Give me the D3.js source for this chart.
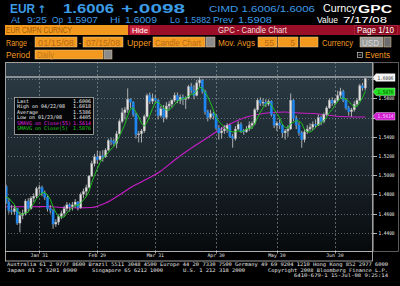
<!DOCTYPE html>
<html><head><meta charset="utf-8">
<script src="https://cdn.jsdelivr.net/npm/d3@7"></script>
<style>html,body{margin:0;padding:0;background:#000;}svg{display:block}</style>
</head><body>
<svg id="c" width="400" height="286"></svg>
<script>
// ---------- DATA ----------
const dates = ["01/15","01/16","01/17","01/18","01/21","01/22","01/23","01/24","01/25","01/28","01/29","01/30","01/31",
"02/01","02/04","02/05","02/06","02/07","02/08","02/11","02/12","02/13","02/14","02/15","02/18","02/19","02/20","02/21","02/22","02/25","02/26","02/27","02/28","02/29",
"03/03","03/04","03/05","03/06","03/07","03/10","03/11","03/12","03/13","03/14","03/17","03/18","03/19","03/20","03/21","03/24","03/25","03/26","03/27","03/28","03/31",
"04/01","04/02","04/03","04/04","04/07","04/08","04/09","04/10","04/11","04/14","04/15","04/16","04/17","04/18","04/21","04/22","04/23","04/24","04/25","04/28","04/29","04/30",
"05/01","05/02","05/05","05/06","05/07","05/08","05/09","05/12","05/13","05/14","05/15","05/16","05/19","05/20","05/21","05/22","05/23","05/26","05/27","05/28","05/29","05/30",
"06/02","06/03","06/04","06/05","06/06","06/09","06/10","06/11","06/12","06/13","06/16","06/17","06/18","06/19","06/20","06/23","06/24","06/25","06/26","06/27","06/30",
"07/01","07/02","07/03","07/04","07/07","07/08","07/09","07/10","07/11","07/14","07/15"];
const opens = [1.4880,1.4720,1.4630,1.4620,1.4650,1.4500,1.4580,1.4600,1.4730,1.4650,1.4760,1.4780,1.4860,
1.4870,1.4810,1.4770,1.4650,1.4630,1.4490,1.4510,1.4570,1.4600,1.4650,1.4690,1.4670,1.4690,1.4720,1.4660,1.4800,1.4830,1.4870,1.4990,1.5120,1.5190,
1.5160,1.5200,1.5190,1.5260,1.5360,1.5350,1.5330,1.5430,1.5560,1.5650,1.5680,1.5790,1.5760,1.5630,1.5420,1.5430,1.5460,1.5610,1.5830,1.5770,1.5800,
1.5780,1.5620,1.5690,1.5600,1.5720,1.5740,1.5780,1.5830,1.5780,1.5810,1.5790,1.5800,1.5920,1.5880,1.5830,1.5960,1.5990,1.5870,1.5660,1.5600,1.5640,1.5620,
1.5490,1.5440,1.5460,1.5480,1.5520,1.5400,1.5380,1.5480,1.5530,1.5460,1.5450,1.5480,1.5520,1.5540,1.5680,1.5780,1.5750,1.5760,1.5740,1.5770,1.5630,1.5520,
1.5540,1.5520,1.5440,1.5460,1.5480,1.5780,1.5590,1.5520,1.5440,1.5370,1.5450,1.5480,1.5500,1.5530,1.5520,1.5600,1.5560,1.5630,1.5700,1.5780,1.5750,
1.5780,1.5830,1.5870,1.5780,1.5700,1.5660,1.5680,1.5740,1.5780,1.5930,1.5907];
const highs = [1.4900,1.4760,1.4690,1.4690,1.4660,1.4620,1.4640,1.4750,1.4760,1.4780,1.4810,1.4880,1.4900,
1.4890,1.4840,1.4790,1.4690,1.4650,1.4540,1.4590,1.4630,1.4680,1.4720,1.4710,1.4720,1.4750,1.4730,1.4820,1.4860,1.4900,1.5000,1.5150,1.5220,1.5250,
1.5250,1.5260,1.5280,1.5380,1.5390,1.5380,1.5460,1.5580,1.5700,1.5710,1.5903,1.5800,1.5770,1.5650,1.5460,1.5480,1.5630,1.5850,1.5860,1.5850,1.5830,
1.5790,1.5720,1.5730,1.5760,1.5770,1.5790,1.5860,1.5860,1.5840,1.5840,1.5820,1.5940,1.5960,1.5940,1.5990,1.6018,1.6000,1.5890,1.5680,1.5680,1.5660,1.5640,
1.5520,1.5500,1.5520,1.5540,1.5530,1.5430,1.5510,1.5560,1.5550,1.5480,1.5510,1.5560,1.5560,1.5700,1.5800,1.5810,1.5800,1.5790,1.5790,1.5780,1.5640,1.5560,
1.5580,1.5530,1.5480,1.5520,1.5850,1.5790,1.5620,1.5550,1.5460,1.5480,1.5520,1.5540,1.5560,1.5580,1.5630,1.5620,1.5650,1.5720,1.5800,1.5810,1.5800,
1.5880,1.5910,1.5890,1.5800,1.5720,1.5700,1.5770,1.5800,1.5950,1.5960,1.6009];
const lows = [1.4700,1.4600,1.4590,1.4590,1.4480,1.4405,1.4540,1.4580,1.4620,1.4640,1.4720,1.4760,1.4800,
1.4780,1.4740,1.4620,1.4600,1.4440,1.4460,1.4480,1.4540,1.4570,1.4620,1.4620,1.4630,1.4660,1.4630,1.4650,1.4760,1.4780,1.4860,1.4980,1.5090,1.5120,
1.5150,1.5140,1.5180,1.5250,1.5310,1.5300,1.5280,1.5420,1.5540,1.5580,1.5650,1.5700,1.5610,1.5380,1.5340,1.5340,1.5440,1.5600,1.5740,1.5740,1.5750,
1.5580,1.5600,1.5550,1.5580,1.5680,1.5700,1.5760,1.5750,1.5740,1.5730,1.5690,1.5790,1.5850,1.5790,1.5820,1.5920,1.5850,1.5630,1.5560,1.5580,1.5580,1.5470,
1.5370,1.5380,1.5430,1.5440,1.5390,1.5285,1.5360,1.5470,1.5440,1.5420,1.5440,1.5460,1.5480,1.5520,1.5660,1.5720,1.5720,1.5710,1.5720,1.5610,1.5490,1.5460,
1.5480,1.5390,1.5370,1.5400,1.5470,1.5560,1.5480,1.5410,1.5285,1.5340,1.5430,1.5460,1.5470,1.5490,1.5510,1.5520,1.5540,1.5620,1.5690,1.5720,1.5730,
1.5760,1.5800,1.5760,1.5680,1.5620,1.5610,1.5660,1.5720,1.5770,1.5880,1.5882];
const closes = [1.4720,1.4630,1.4620,1.4650,1.4500,1.4580,1.4600,1.4730,1.4650,1.4760,1.4780,1.4860,1.4870,
1.4810,1.4770,1.4650,1.4630,1.4490,1.4510,1.4570,1.4600,1.4650,1.4690,1.4670,1.4690,1.4720,1.4660,1.4800,1.4830,1.4870,1.4990,1.5120,1.5190,1.5160,
1.5200,1.5190,1.5260,1.5360,1.5350,1.5330,1.5430,1.5560,1.5650,1.5680,1.5790,1.5760,1.5630,1.5420,1.5430,1.5460,1.5610,1.5830,1.5770,1.5800,1.5780,
1.5620,1.5690,1.5600,1.5720,1.5740,1.5780,1.5830,1.5780,1.5810,1.5790,1.5800,1.5920,1.5880,1.5830,1.5960,1.5990,1.5870,1.5660,1.5600,1.5640,1.5620,1.5490,
1.5440,1.5460,1.5480,1.5520,1.5400,1.5380,1.5480,1.5530,1.5460,1.5450,1.5480,1.5520,1.5540,1.5680,1.5780,1.5750,1.5760,1.5740,1.5770,1.5630,1.5520,1.5540,
1.5520,1.5440,1.5460,1.5480,1.5780,1.5590,1.5520,1.5440,1.5370,1.5450,1.5480,1.5500,1.5530,1.5520,1.5600,1.5560,1.5630,1.5700,1.5780,1.5750,1.5780,
1.5830,1.5870,1.5780,1.5700,1.5660,1.5680,1.5740,1.5780,1.5930,1.5908,1.6006];
const priorCloses = [1.4690,1.4790,1.4810,1.4850];          // closes before 01/15 for the 5-day average
const sma55Days = ["01/15","01/22","01/29","02/05","02/12","02/20","02/27","03/05","03/12","03/19","03/26","04/02","04/09","04/16","04/23","04/30",
"05/07","05/14","05/21","05/28","06/04","06/11","06/18","06/25","07/02","07/09","07/15"];
const sma55Vals = [1.4671,1.4671,1.4671,1.4673,1.4662,1.4657,1.4662,1.4709,1.4793,1.4886,1.4959,1.5043,1.5157,1.5261,1.5355,1.5449,
1.5532,1.5595,1.5631,1.5652,1.5657,1.5647,1.5642,1.5626,1.5610,1.5605,1.5605];
const yTicks = [1.44,1.46,1.48,1.50,1.52,1.54,1.56,1.58,1.60];
const xTickDates = ["01/31","02/29","03/31","04/30","05/30","06/30"];
const xTickLabels = ["Jan 31","Feb 29","Mar 31","Apr 30","May 30","Jun 30"];
const legendRows = [["Last","1.6006"],["High on 04/22/08","1.6018"],["Average","1.5386"],["Low on 01/23/08","1.4405"],["SMAVG on Close(55)","1.5614"],["SMAVG on Close(5)","1.5876"]];
const lastPrice = 1.6006, sma55Last = "1.5614", sma5Last = "1.5876";

// ---------- DRAW ----------
const svg = d3.select("#c");
const FONT = "Liberation Sans";
const MONO = "DejaVu Sans Mono";
function txt(s, x, y, o) {
  o = o || {};
  const t = svg.append("text").attr("x", x).attr("y", y).text(s)
    .attr("font-family", o.family || FONT).attr("font-size", o.size || 9)
    .attr("fill", o.fill || "#fff").attr("font-weight", o.weight || "normal");
  if (o.tl) t.attr("textLength", o.tl).attr("lengthAdjust", "spacingAndGlyphs");
  if (o.anchor) t.attr("text-anchor", o.anchor);
  return t;
}
const BLUE = "#3c9be6", ORANGE = "#f09a22";

// Header line 1
txt("EUR", 10, 12.6, {size: 12, weight: "bold", fill: BLUE, tl: 25});
txt("\u2191", 37.5, 12.6, {size: 10.5, weight: "bold", fill: BLUE, family: "DejaVu Sans"});
txt("1.6006", 63, 12.6, {size: 12, weight: "bold", fill: BLUE, tl: 51});
txt("+.0098", 121, 12.6, {size: 12, weight: "bold", fill: BLUE, tl: 64});
txt("CIMD 1.6006/1.6006", 209, 12, {size: 9.5, fill: BLUE, tl: 106});
txt("Curncy", 323, 12, {size: 10, fill: "#fff", tl: 34});
txt("GPC", 358, 12.5, {size: 11.5, weight: "bold", fill: "#fff", tl: 34});
// Header line 2
[["At",11,9],["9:25",27,20],["Op",52,11],["1.5907",67,31],["Hi",110,10],["1.6009",125,32],["Lo",170,10],["1.5882",184,27],["Prev",213,20],["1.5908",238,34]]
  .forEach(d => txt(d[0], d[1], 22.6, {size: 8.5, fill: BLUE, tl: d[2]}));
txt("Value", 317, 22.6, {size: 8.5, tl: 21});
txt("7/17/08", 343, 22.6, {size: 8.5, tl: 44});

// Row 3
svg.append("rect").attr("x",5).attr("y",25).attr("width",123).attr("height",10).attr("fill","#f39a1e");
txt("EUR CMPN CURNCY", 6, 33.3, {size: 8.5, fill: "#a55a08", tl: 66});
svg.append("rect").attr("x",128).attr("y",25).attr("width",272).attr("height",10).attr("fill","#9a0f27");
svg.append("rect").attr("x",130).attr("y",25.5).attr("width",20).attr("height",9).attr("fill","#c8263e");
txt("Hide", 132, 33.3, {size: 8, fill: "#fff", tl: 16});
txt("GPC - Candle Chart", 218, 33.3, {size: 8.5, fill: "#f4dede", tl: 69});
svg.append("rect").attr("x",354.5).attr("y",25.5).attr("width",43).attr("height",9).attr("fill","#8a0a20").attr("stroke","#c03048").attr("stroke-width",0.6);
txt("Page 1/10", 357, 33.3, {size: 8.5, fill: "#fff", tl: 37});

// Row 4
function box(x, y, w, h, fill) {
  svg.append("rect").attr("x",x).attr("y",y).attr("width",w).attr("height",h).attr("fill",fill)
    .attr("stroke","#e8c89a").attr("stroke-width",0.5);
}
txt("Range", 6, 45.5, {size: 8.5, fill: ORANGE, tl: 21});
box(35, 37, 42, 10, "#f39a1e"); txt("01/15/08", 38, 45.5, {size: 8.5, fill: "#b86a1a", tl: 36});
txt("-", 78.5, 45.5, {size: 8.5, fill: ORANGE});
box(83, 37, 40, 10, "#f39a1e"); txt("07/15/08", 86, 45.5, {size: 8.5, fill: "#b86a1a", tl: 34});
txt("Upper", 127, 45.5, {size: 8.5, fill: ORANGE, tl: 24});
box(153, 37, 52, 10, "#f39a1e"); txt("Candle Chart", 155, 45.5, {size: 8.5, fill: "#b86a1a", tl: 46});
box(206, 37, 9, 10, "#8c8c8c");
txt("Mov. Avgs", 218, 45.5, {size: 8.5, fill: ORANGE, tl: 37});
box(258, 37, 19, 10, "#f39a1e"); txt("55", 274, 45.5, {size: 8.5, fill: "#b86a1a", anchor: "end"});
box(278, 37, 20, 10, "#f39a1e"); txt("5", 295, 45.5, {size: 8.5, fill: "#b86a1a", anchor: "end"});
box(300, 37, 18, 10, "#f39a1e");
txt("Currency", 322, 45.5, {size: 8.5, fill: ORANGE, tl: 31});
box(360, 37, 23, 10, "#9c9c9c"); txt("USD", 362, 45.5, {size: 8.5, fill: "#d8d8d8", tl: 17});
box(384, 37, 7, 10, "#6c6c6c");
// Row 5
txt("Period", 6, 57.5, {size: 8.5, fill: ORANGE, tl: 24});
box(35, 50, 68, 9, "#f39a1e"); txt("Daily", 37, 57.5, {size: 8.5, fill: "#c0781e", tl: 17});
box(104, 50, 8, 9, "#8c8c8c");
svg.append("rect").attr("x",357.5).attr("y",52.5).attr("width",5).attr("height",5).attr("fill","none").attr("stroke","#ccc").attr("stroke-width",0.7);
svg.append("line").attr("x1",358.5).attr("x2",361.5).attr("y1",55).attr("y2",55).attr("stroke","#ccc").attr("stroke-width",0.7);
txt("Events", 365, 58, {size: 8.5, fill: ORANGE, tl: 25});

// ---------- CHART ----------
const P = {l: 5, r: 373, t: 62, b: 251};
const x = d3.scaleLinear().domain([0, dates.length - 1]).range([6.1, 365.3]);
const y = d3.scaleLinear().domain([1.44, 1.58]).range([232.7, 98.3]);
const xi = d => dates.indexOf(d);

const defs = svg.append("defs");
const g1 = defs.append("linearGradient").attr("id","bg").attr("x1",0).attr("y1",0).attr("x2",0).attr("y2",1);
g1.append("stop").attr("offset","0%").attr("stop-color","#2c3c46");
g1.append("stop").attr("offset","55%").attr("stop-color","#1b252c");
g1.append("stop").attr("offset","100%").attr("stop-color","#070a0c");
defs.append("clipPath").attr("id","clip").append("rect").attr("x",P.l).attr("y",P.t).attr("width",P.r-P.l).attr("height",P.b-P.t);

svg.append("rect").attr("x",P.l).attr("y",P.t).attr("width",P.r-P.l).attr("height",P.b-P.t).attr("fill","url(#bg)");
const cg = svg.append("g").attr("clip-path","url(#clip)");

// grid
cg.selectAll(".hg").data(yTicks).join("line")
  .attr("x1",P.l).attr("x2",P.r).attr("y1",d=>Math.round(y(d))+0.5).attr("y2",d=>Math.round(y(d))+0.5)
  .attr("stroke","#9aa3aa").attr("stroke-width",0.8).attr("stroke-dasharray","1,2").attr("opacity",0.7);
cg.selectAll(".vg").data(xTickDates).join("line")
  .attr("x1",d=>Math.round(x(xi(d)))+0.5).attr("x2",d=>Math.round(x(xi(d)))+0.5).attr("y1",P.t).attr("y2",P.b)
  .attr("stroke","#9aa3aa").attr("stroke-width",0.8).attr("stroke-dasharray","2,2").attr("opacity",0.7);

// last price line
cg.append("line").attr("x1",P.l).attr("x2",P.r).attr("y1",y(lastPrice)-1.5).attr("y2",y(lastPrice)-1.5)
  .attr("stroke","#e8e8e8").attr("stroke-width",1.2);

// 55-day SMA
const sma55 = sma55Days.map((d,k)=>[xi(d), sma55Vals[k]]);
cg.append("path").datum(sma55)
  .attr("d", d3.line().x(d=>x(d[0])).y(d=>y(d[1])).curve(d3.curveMonotoneX))
  .attr("fill","none").attr("stroke","#c81ec8").attr("stroke-width",1.1);

// candles
const bars = dates.map((d,i)=>({i, o:opens[i], h:highs[i], l:lows[i], c:closes[i]}));
cg.selectAll(".wk").data(bars).join("line")
  .attr("x1",d=>x(d.i)).attr("x2",d=>x(d.i)).attr("y1",d=>y(d.h)).attr("y2",d=>y(d.l))
  .attr("stroke","#cfcfcf").attr("stroke-width",0.8);
cg.selectAll(".bd").data(bars).join("rect")
  .attr("x",d=>x(d.i)-1.1).attr("width",2.2)
  .attr("y",d=>y(Math.max(d.o,d.c))).attr("height",d=>Math.max(1,Math.abs(y(d.o)-y(d.c))))
  .attr("fill",d=>d.c>=d.o?"#e2e2e2":"#1f86ee")
  .attr("stroke",d=>d.c>=d.o?"#9a9a9a":"#1f86ee").attr("stroke-width",0.4);

// 5-day SMA
const allC = priorCloses.concat(closes);
const sma5 = closes.map((c,i)=>[i, d3.mean(allC.slice(i, i+5))]);
cg.append("path").datum(sma5)
  .attr("d", d3.line().x(d=>x(d[0])).y(d=>y(d[1])))
  .attr("fill","none").attr("stroke","#1fc21f").attr("stroke-width",1);

// frames
svg.append("rect").attr("x",P.l+0.5).attr("y",P.t+0.5).attr("width",P.r-P.l-1).attr("height",P.b-P.t)
  .attr("fill","none").attr("stroke","#a0a0a0").attr("stroke-width",1);
svg.append("rect").attr("x",P.r+0.5).attr("y",P.t+0.5).attr("width",399-P.r-1).attr("height",P.b-P.t)
  .attr("fill","none").attr("stroke","#707070").attr("stroke-width",0.8);
// x axis strip
svg.append("rect").attr("x",P.l+0.5).attr("y",P.b+0.5).attr("width",P.r-P.l-1).attr("height",9.5)
  .attr("fill","#000").attr("stroke","#c8c8c8").attr("stroke-width",0.8);
svg.selectAll(".xt").data(xTickDates).join("line")
  .attr("x1",d=>Math.round(x(xi(d)))+0.5).attr("x2",d=>Math.round(x(xi(d)))+0.5).attr("y1",P.b).attr("y2",P.b+2.5)
  .attr("stroke","#ddd").attr("stroke-width",0.7);
svg.selectAll(".xl").data(xTickDates).join("text")
  .attr("x",d=>x(xi(d))).attr("y",P.b+6.3).attr("text-anchor","middle")
  .attr("font-family",MONO).attr("font-size",4.8).attr("fill","#e6e6e6")
  .text((d,k)=>xTickLabels[k]);

// value tags (positions in px of the right-hand tags)
const tags = [
  {yc: 116.3, label: sma55Last, fill: "#d21ed2", tcol: "#ffd0ff"},
  {yc: 91.8, label: sma5Last, fill: "#22e022", tcol: "#0a4a0a"},
  {yc: 77.5, label: lastPrice.toFixed(4), fill: "#f4f4f4", tcol: "#333"}
];

// y axis (labels hidden where a value tag covers them, as in the reference)
svg.selectAll(".yt").data(yTicks).join("line")
  .attr("x1",P.r).attr("x2",P.r+4).attr("y1",d=>Math.round(y(d))+0.5).attr("y2",d=>Math.round(y(d))+0.5)
  .attr("stroke","#ddd").attr("stroke-width",0.8);
const visibleTicks = yTicks.filter(d => tags.every(t => Math.abs(y(d) - t.yc) > 6));
svg.selectAll(".yl").data(visibleTicks).join("text")
  .attr("x",P.r+5.5).attr("y",d=>y(d)+2).attr("font-family",MONO).attr("font-size",5.2).attr("fill","#f0f0f0")
  .attr("textLength",16).attr("lengthAdjust","spacingAndGlyphs")
  .text(d=>d.toFixed(4));

tags.forEach(t => {
  const g = svg.append("g");
  g.append("path").attr("d",`M${P.r},${t.yc} L${P.r+3},${t.yc-3.8} L${P.r+22},${t.yc-3.8} L${P.r+22},${t.yc+3.8} L${P.r+3},${t.yc+3.8} Z`)
    .attr("fill",t.fill).attr("stroke","#fff").attr("stroke-width",0.4);
  g.append("text").attr("x",P.r+4.5).attr("y",t.yc+2).text(t.label).attr("font-family",MONO).attr("font-size",5.2)
    .attr("fill",t.tcol).attr("textLength",16).attr("lengthAdjust","spacingAndGlyphs");
});

// legend
const L = {x: 14.5, y: 97.5, w: 79, h: 37};
svg.append("rect").attr("x",L.x).attr("y",L.y).attr("width",L.w).attr("height",L.h)
  .attr("fill","#000").attr("fill-opacity",0.88).attr("stroke","#b0b0b0").attr("stroke-width",0.8);
const legCol = ["#f0f0f0","#f0f0f0","#f0f0f0","#f0f0f0","#e020e0","#20d020"];
legendRows.forEach((r,k)=>{
  const yy = 102.6 + k*5.55;
  txt(r[0], 17, yy, {family: MONO, size: 5, fill: legCol[k], tl: r[0].length*3.0});
  txt(r[1], 91, yy, {family: MONO, size: 5, fill: legCol[k], anchor: "end"});
});

// footer
const fcol = "#e8e8e8";
txt("Australia 61 2 9777 8600 Brazil 5511 3048 4500 Europe 44 20 7330 7500 Germany 49 69 9204 1210 Hong Kong 852 2977 6000", 7, 266, {family: MONO, size: 4.9, fill: fcol, tl: 381});
txt("Japan 81 3 3201 8900", 7, 271.6, {family: MONO, size: 4.9, fill: fcol, tl: 70});
txt("Singapore 65 6212 1000", 92, 271.6, {family: MONO, size: 4.9, fill: fcol, tl: 71});
txt("U.S. 1 212 318 2000", 183, 271.6, {family: MONO, size: 4.9, fill: fcol, tl: 62});
txt("Copyright 2008 Bloomberg Finance L.P.", 268, 271.6, {family: MONO, size: 4.9, fill: fcol, tl: 120});
txt("6410-679-1 15-Jul-08  9:25:14", 294, 277.2, {family: MONO, size: 4.9, fill: fcol, tl: 94});
</script>
</body></html>
